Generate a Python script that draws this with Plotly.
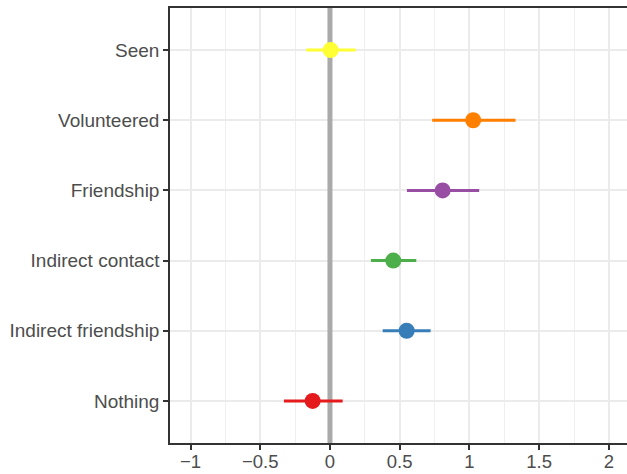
import plotly.graph_objects as go

categories = ["Nothing", "Indirect friendship", "Indirect contact", "Friendship", "Volunteered", "Seen"]
estimates = [-0.124, 0.55, 0.454, 0.808, 1.027, 0.005]
ci_low = [-0.33, 0.378, 0.294, 0.552, 0.733, -0.17]
ci_high = [0.091, 0.722, 0.619, 1.07, 1.331, 0.184]
colors = ["#E41A1C", "#377EB8", "#4DAF4A", "#984EA3", "#FF7F00", "#FFFF33"]
ref_x = 0

x_tickvals = [-1, -0.5, 0, 0.5, 1, 1.5, 2]
x_ticktext = ["\u22121", "\u22120.5", "0", "0.5", "1", "1.5", "2"]
y_range = [0.4, len(categories) + 0.6]

fig = go.Figure()
fig.add_trace(go.Scatter(x=[ref_x, ref_x], y=y_range, mode="lines",
                         line=dict(color="#AAAAAA", width=5),
                         showlegend=False, hoverinfo="skip"))
for i, cat in enumerate(categories):
    fig.add_trace(go.Scatter(
        x=[estimates[i]], y=[i + 1],
        mode="markers",
        marker=dict(color=colors[i], size=16, line=dict(width=0)),
        error_x=dict(type="data", symmetric=False,
                     array=[ci_high[i] - estimates[i]],
                     arrayminus=[estimates[i] - ci_low[i]],
                     color=colors[i], thickness=3, width=0),
        showlegend=False,
    ))

yfont = dict(family="Liberation Sans, Arial, sans-serif", size=19, color="#4D4D4D")
xfont = dict(family="Liberation Sans, Arial, sans-serif", size=18.5, color="#4D4D4D")
fig.update_layout(
    width=627, height=474,
    margin=dict(l=170, r=0, t=8, b=31),
    plot_bgcolor="white", paper_bgcolor="white",
    font=yfont,
    xaxis=dict(range=[-1.147, 2.13], tickvals=x_tickvals, ticktext=x_ticktext,
               showgrid=True, gridcolor="#EBEBEB", gridwidth=1.5,
               minor=dict(dtick=0.25, tick0=0, showgrid=True, gridcolor="#EFEFEF", gridwidth=0.8, ticks=""),
               showline=True, linecolor="#333333", linewidth=1.5, mirror=True,
               ticks="outside", ticklen=5, tickwidth=1.5, tickcolor="#333333",
               zeroline=False, tickfont=xfont, automargin=False, ticklabelstandoff=-4),
    yaxis=dict(range=y_range, tickvals=list(range(1, len(categories) + 1)), ticktext=categories,
               showgrid=True, gridcolor="#EBEBEB", gridwidth=1.5,
               showline=True, linecolor="#333333", linewidth=1.5,
               ticks="outside", ticklen=5, tickwidth=1.5, tickcolor="#333333",
               zeroline=False, tickfont=yfont, automargin=False),
)

fig.write_html("out.html")
